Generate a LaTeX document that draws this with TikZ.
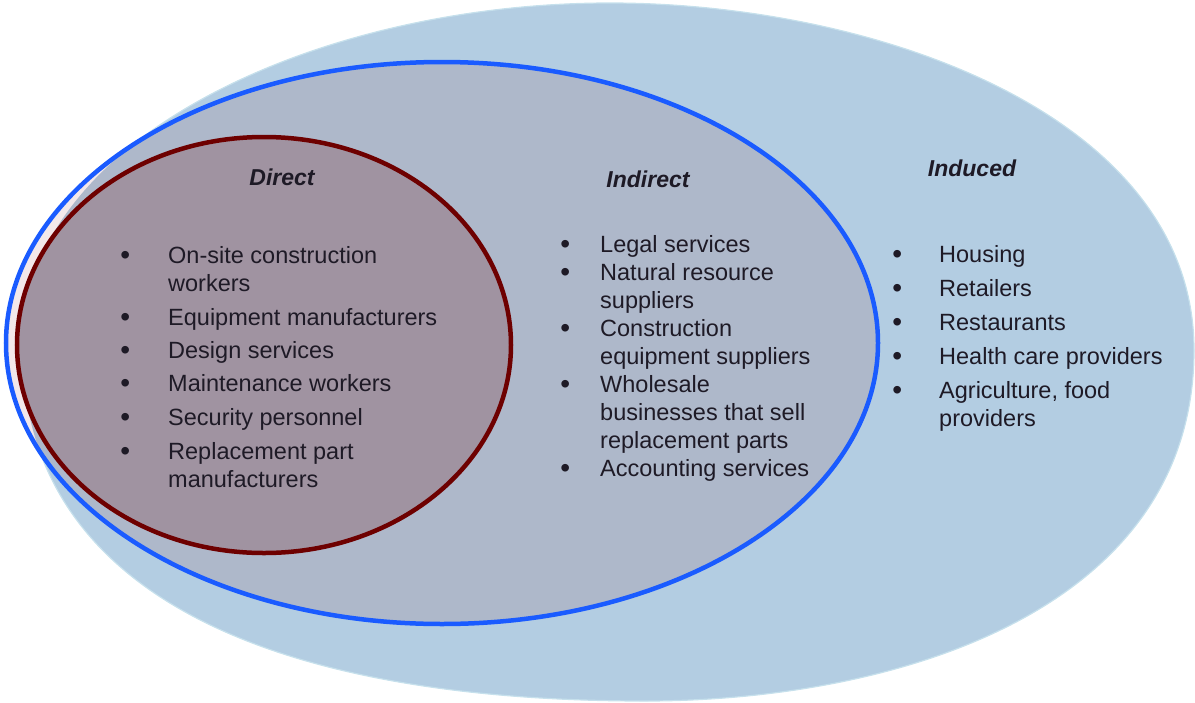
\documentclass[tikz,border=0pt]{standalone}
\usepackage{fontspec}
\setmainfont{Liberation Sans}
\definecolor{outerfill}{HTML}{B3CDE2}
\definecolor{outeredge}{HTML}{C6E0EC}
\definecolor{midfill}{HTML}{AEB8CA}
\definecolor{midedge}{HTML}{1A5BFF}
\definecolor{pinkband}{HTML}{F3E8EA}
\definecolor{innerfill}{HTML}{A093A1}
\definecolor{inneredge}{HTML}{6E0000}
\definecolor{txt}{HTML}{1E1A26}
\newcommand\bul{\raisebox{-1.2pt}{\fontsize{28}{28}\selectfont •}}
\begin{document}
\begin{tikzpicture}[x=1pt,y=-1pt,
  lst/.style={anchor=base west, inner sep=0pt, text=txt, font=\fontsize{23.5}{28}\selectfont},
  ttl/.style={anchor=base, inner sep=0pt, text=txt, font=\fontsize{23}{28}\selectfont\bfseries\itshape}]
\useasboundingbox (0,0) rectangle (1195,702);
% outer (induced) region
\fill[outerfill, draw=outeredge, line width=1.2pt]
  (610,3) .. controls (873,3) and (1194,114) .. (1194,350)
  .. controls (1194,613) and (892,701) .. (645,701)
  .. controls (271,701) and (22,594) .. (22,345)
  .. controls (22,139.8) and (316,3) .. (610,3) -- cycle;
% indirect ellipse: pale where it lies outside the outer region
\fill[pinkband] (442,343) ellipse [x radius=436pt, y radius=281pt];
\begin{scope}
\clip (610,3) .. controls (873,3) and (1194,114) .. (1194,350)
  .. controls (1194,613) and (892,701) .. (645,701)
  .. controls (271,701) and (22,594) .. (22,345)
  .. controls (22,139.8) and (316,3) .. (610,3) -- cycle;
\fill[midfill] (442,343) ellipse [x radius=436pt, y radius=281pt];
\end{scope}
% direct ellipse
\fill[innerfill, draw=inneredge, line width=4.5pt] (264,345) ellipse [x radius=247pt, y radius=208pt];
% indirect ellipse outline
\draw[midedge, line width=4.5pt] (442,343) ellipse [x radius=436pt, y radius=281pt];

% titles
\node[ttl] (tdirect) at (282,185) {Direct};
\node[ttl] (tindirect) at (648,187) {Indirect};
\node[ttl] (tinduced) at (972,176) {Induced};

% lists
\node[lst] (ldirect) at (120.1,263) {\begin{tabular}[t]{@{}p{47.9pt}@{}l@{}}
\bul & On-site construction\\
     & workers\\[6pt]
\bul & Equipment manufacturers\\[5pt]
\bul & Design services\\[5pt]
\bul & Maintenance workers\\[6pt]
\bul & Security personnel\\[6pt]
\bul & Replacement part\\
     & manufacturers
\end{tabular}};

\node[lst] (lindirect) at (560.1,252) {\begin{tabular}[t]{@{}p{39.9pt}@{}l@{}}
\bul & Legal services\\
\bul & Natural resource\\
     & suppliers\\
\bul & Construction\\
     & equipment suppliers\\
\bul & Wholesale\\
     & businesses that sell\\
     & replacement parts\\
\bul & Accounting services
\end{tabular}};

\node[lst] (linduced) at (892.1,262) {\begin{tabular}[t]{@{}p{46.9pt}@{}l@{}}
\bul & Housing\\[6pt]
\bul & Retailers\\[6pt]
\bul & Restaurants\\[6pt]
\bul & Health care providers\\[6pt]
\bul & Agriculture, food\\
     & providers
\end{tabular}};
\end{tikzpicture}
\end{document}
